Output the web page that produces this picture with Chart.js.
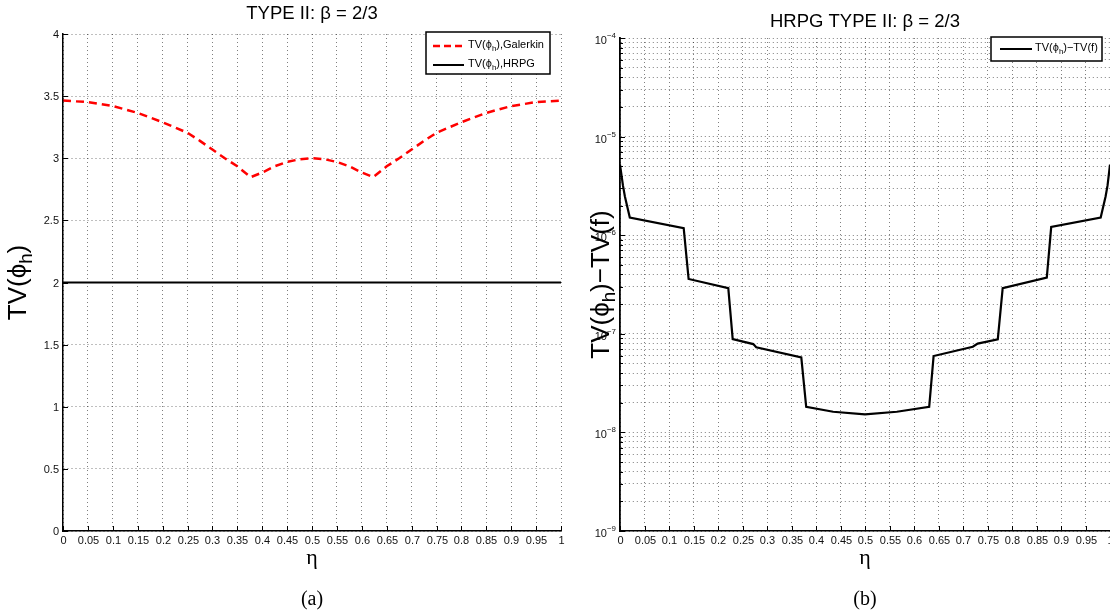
<!DOCTYPE html>
<html>
<head>
<meta charset="utf-8">
<script src="https://cdn.jsdelivr.net/npm/chart.js@4.4.0/dist/chart.umd.min.js"></script>
<style>
  html, body { margin: 0; padding: 0; background: #fff; }
  #wrap { position: relative; width: 1110px; height: 615px; overflow: hidden; }
  #left { position: absolute; left: 0; top: 0; }
  #right { position: absolute; left: 580px; top: 0; }
</style>
</head>
<body>
<div id="wrap">
  <canvas id="left" width="580" height="615"></canvas>
  <canvas id="right" width="530" height="615"></canvas>
</div>
<script>
// tick positions
const etaTicks = [0, 0.05, 0.1, 0.15, 0.2, 0.25, 0.3, 0.35, 0.4, 0.45, 0.5,
                  0.55, 0.6, 0.65, 0.7, 0.75, 0.8, 0.85, 0.9, 0.95, 1];
const tvTicks = [0, 0.5, 1, 1.5, 2, 2.5, 3, 3.5, 4];
const decadeExps = [-9, -8, -7, -6, -5, -4];

// (a) total variation, Galerkin vs HRPG
const etaGalerkin = [0, 0.05, 0.1, 0.15, 0.2, 0.25, 0.275, 0.3, 0.325, 0.35, 0.377,
                     0.4, 0.425, 0.45, 0.475, 0.5, 0.525, 0.55, 0.575, 0.6, 0.623,
                     0.65, 0.675, 0.7, 0.725, 0.75, 0.8, 0.85, 0.9, 0.95, 1];
const tvGalerkin = [3.464, 3.452, 3.42, 3.365, 3.29, 3.205, 3.14, 3.07, 3.0, 2.935, 2.848,
                    2.885, 2.935, 2.97, 2.992, 3.0, 2.992, 2.97, 2.935, 2.885, 2.848,
                    2.935, 3.0, 3.07, 3.14, 3.205, 3.29, 3.365, 3.42, 3.452, 3.464];
const etaHrpg = [0, 1];
const tvHrpg = [2, 2];

// (b) TV(phi_h) - TV(f) for HRPG
const etaDiff = [0, 0.006, 0.010, 0.020, 0.130, 0.140, 0.221, 0.230, 0.272, 0.278, 0.370,
                 0.380, 0.435, 0.500, 0.565, 0.631, 0.640, 0.720, 0.730, 0.771, 0.781,
                 0.871, 0.880, 0.981, 0.991, 0.995, 1];
const tvDiff = [5.2e-6, 3.2e-6, 2.47e-6, 1.51e-6, 1.18e-6, 3.6e-7, 2.9e-7, 8.85e-8, 7.87e-8, 7.29e-8, 5.77e-8,
                1.82e-8, 1.62e-8, 1.52e-8, 1.62e-8, 1.82e-8, 5.95e-8, 7.39e-8, 7.96e-8, 8.79e-8, 2.9e-7,
                3.71e-7, 1.21e-6, 1.51e-6, 2.47e-6, 3.2e-6, 5.2e-6];

const FONT = '"Liberation Sans", Arial, Helvetica, sans-serif';
const SERIF = '"Liberation Serif", "DejaVu Serif", serif';
const GRID = 'rgba(0,0,0,0.5)';

function points(xs, ys) {
  return xs.map((x, i) => ({ x: x, y: ys[i] }));
}

// draws text made of pieces, some of them sub- or superscript
function rich(ctx, parts, x, y, size, align, family) {
  family = family || FONT;
  ctx.textBaseline = 'middle';
  ctx.textAlign = 'left';
  const widths = parts.map(p => {
    ctx.font = (p[1] ? size * 0.72 : size) + 'px ' + family;
    return ctx.measureText(p[0]).width;
  });
  const total = widths.reduce((a, b) => a + b, 0);
  let cx = align === 'center' ? x - total / 2 : align === 'right' ? x - total : x;
  parts.forEach((p, i) => {
    ctx.font = (p[1] ? size * 0.72 : size) + 'px ' + family;
    const dy = p[1] === 'sub' ? size * 0.32 : p[1] === 'sup' ? -size * 0.45 : 0;
    ctx.fillText(p[0], cx, y + dy);
    cx += widths[i];
  });
}

function seg(ctx, x1, y1, x2, y2) {
  ctx.beginPath();
  ctx.moveTo(x1, y1);
  ctx.lineTo(x2, y2);
  ctx.stroke();
}

function fmt(v) {
  return String(Math.round(v * 100) / 100);
}

function xAxisDecor(chart) {
  const { ctx, chartArea: a } = chart;
  const xs = chart.scales.x;
  ctx.strokeStyle = '#000';
  ctx.fillStyle = '#111';
  ctx.lineWidth = 1;
  xs.ticks.forEach(t => {
    const px = Math.round(xs.getPixelForValue(t.value)) + 0.5;
    seg(ctx, px, a.bottom, px, a.bottom - 5);
    ctx.font = '11px ' + FONT;
    ctx.textAlign = 'center';
    ctx.textBaseline = 'middle';
    ctx.fillText(fmt(t.value), px, a.bottom + 10);
  });
  const mid = (a.left + a.right) / 2;
  ctx.font = '22px ' + SERIF;
  ctx.textAlign = 'center';
  ctx.textBaseline = 'alphabetic';
  ctx.fillStyle = '#000';
  ctx.fillText('\u03b7', mid, 564);
}

const leftDecor = {
  id: 'leftDecor',
  afterDraw(chart) {
    const { ctx, chartArea: a } = chart;
    const ys = chart.scales.y;
    ctx.save();
    xAxisDecor(chart);
    ys.ticks.forEach(t => {
      const py = Math.round(ys.getPixelForValue(t.value)) + 0.5;
      ctx.strokeStyle = '#000';
      seg(ctx, a.left, py, a.left + 5, py);
      ctx.fillStyle = '#111';
      ctx.font = '11px ' + FONT;
      ctx.textAlign = 'right';
      ctx.textBaseline = 'middle';
      ctx.fillText(fmt(t.value), a.left - 4, py);
    });
    const mid = (a.left + a.right) / 2;
    ctx.fillStyle = '#000';
    rich(ctx, [['TYPE II: \u03b2 = 2/3']], mid, 14, 18.5, 'center');
    ctx.save();
    ctx.translate(19, (a.top + a.bottom) / 2);
    ctx.rotate(-Math.PI / 2);
    rich(ctx, [['TV(\u03d5'], ['h', 'sub'], [')']], 0, 0, 26, 'center');
    ctx.restore();
    ctx.font = '20px ' + SERIF;
    ctx.textAlign = 'center';
    ctx.textBaseline = 'middle';
    ctx.fillText('(a)', mid, 600);

    // legend
    const bx = 426, by = 32, bw = 124, bh = 42;
    ctx.fillStyle = '#fff';
    ctx.fillRect(bx, by, bw, bh);
    ctx.strokeStyle = '#000';
    ctx.lineWidth = 1.5;
    ctx.strokeRect(bx, by, bw, bh);
    ctx.lineWidth = 2.5;
    ctx.strokeStyle = '#ff0000';
    ctx.setLineDash([7, 4]);
    seg(ctx, 433, 46, 464, 46);
    ctx.setLineDash([]);
    ctx.lineWidth = 2;
    ctx.strokeStyle = '#000';
    seg(ctx, 433, 65, 464, 65);
    ctx.fillStyle = '#000';
    rich(ctx, [['TV(\u03d5'], ['h', 'sub'], ['),Galerkin']], 468, 45, 11, 'left');
    rich(ctx, [['TV(\u03d5'], ['h', 'sub'], ['),HRPG']], 468, 64, 11, 'left');
    ctx.restore();
  }
};

const rightDecor = {
  id: 'rightDecor',
  afterDraw(chart) {
    const { ctx, chartArea: a } = chart;
    const ys = chart.scales.y;
    ctx.save();
    xAxisDecor(chart);
    ys.ticks.forEach(t => {
      const py = Math.round(ys.getPixelForValue(t.value)) + 0.5;
      const e = Math.log10(t.value);
      const major = Math.abs(e - Math.round(e)) < 1e-6;
      ctx.strokeStyle = '#000';
      ctx.lineWidth = 1;
      seg(ctx, a.left, py, a.left + (major ? 5 : 3), py);
      if (major) {
        ctx.fillStyle = '#111';
        rich(ctx, [['10'], ['\u2212' + Math.abs(Math.round(e)), 'sup']], a.left - 4, py + 2, 11, 'right');
      }
    });
    const mid = (a.left + a.right) / 2;
    ctx.fillStyle = '#000';
    rich(ctx, [['HRPG TYPE II: \u03b2 = 2/3']], mid, 22, 18.5, 'center');
    ctx.save();
    ctx.translate(22, (a.top + a.bottom) / 2);
    ctx.rotate(-Math.PI / 2);
    rich(ctx, [['TV(\u03d5'], ['h', 'sub'], [')\u2212TV(f)']], 0, 0, 26, 'center');
    ctx.restore();
    ctx.font = '20px ' + SERIF;
    ctx.textAlign = 'center';
    ctx.textBaseline = 'middle';
    ctx.fillText('(b)', mid, 600);

    // legend
    const bx = 411, by = 37, bw = 111, bh = 24;
    ctx.fillStyle = '#fff';
    ctx.fillRect(bx, by, bw, bh);
    ctx.strokeStyle = '#000';
    ctx.lineWidth = 1.5;
    ctx.strokeRect(bx, by, bw, bh);
    ctx.lineWidth = 2;
    seg(ctx, 420, 49, 452, 49);
    ctx.fillStyle = '#000';
    rich(ctx, [['TV(\u03d5'], ['h', 'sub'], [')\u2212TV(f)']], 455, 48, 11, 'left');
    ctx.restore();
  }
};

function xScale() {
  return {
    type: 'linear',
    min: 0,
    max: 1,
    afterBuildTicks: s => { s.ticks = etaTicks.map(v => ({ value: v })); },
    afterFit: s => { s.height = 84; },
    ticks: { display: false },
    grid: { color: GRID, lineWidth: 1, drawTicks: false },
    border: { display: true, color: '#000', width: 1.5, dash: [1, 3], z: 1 }
  };
}

const common = {
  responsive: false,
  animation: false,
  devicePixelRatio: 1,
  plugins: { legend: { display: false }, tooltip: { enabled: false }, title: { display: false } }
};

new Chart(document.getElementById('left'), {
  type: 'line',
  data: {
    datasets: [
      { data: points(etaGalerkin, tvGalerkin), borderColor: '#ff0000', borderWidth: 2.5,
        borderDash: [8, 5], pointRadius: 0, fill: false, tension: 0 },
      { data: points(etaHrpg, tvHrpg), borderColor: '#000', borderWidth: 2,
        pointRadius: 0, fill: false }
    ]
  },
  options: Object.assign({}, common, {
    layout: { padding: { top: 34, right: 19, left: 0, bottom: 0 } },
    scales: {
      x: xScale(),
      y: {
        type: 'linear',
        min: 0,
        max: 4,
        afterBuildTicks: s => { s.ticks = tvTicks.map(v => ({ value: v })); },
        afterFit: s => { s.width = 63; },
        ticks: { display: false },
        grid: { color: GRID, lineWidth: 1, drawTicks: false },
        border: { display: true, color: '#000', width: 1.5, dash: [1, 3], z: 1 }
      }
    }
  }),
  plugins: [leftDecor]
});

new Chart(document.getElementById('right'), {
  type: 'line',
  data: {
    datasets: [
      { data: points(etaDiff, tvDiff), borderColor: '#000', borderWidth: 2.2,
        pointRadius: 0, fill: false, tension: 0 }
    ]
  },
  options: Object.assign({}, common, {
    layout: { padding: { top: 38, right: 0, left: 0, bottom: 0 } },
    scales: {
      x: xScale(),
      y: {
        type: 'logarithmic',
        min: 1e-9,
        max: 1e-4,
        afterBuildTicks: s => {
          const list = [];
          decadeExps.forEach((e, i) => {
            const base = Math.pow(10, e);
            list.push({ value: base });
            if (i < decadeExps.length - 1) {
              for (let m = 2; m <= 9; m++) list.push({ value: m * base });
            }
          });
          s.ticks = list;
        },
        afterFit: s => { s.width = 40; },
        ticks: { display: false },
        grid: { color: GRID, lineWidth: 1, drawTicks: false },
        border: { display: true, color: '#000', width: 1.8, dash: [1, 3], z: 1 }
      }
    }
  }),
  plugins: [rightDecor]
});
</script>
</body>
</html>
